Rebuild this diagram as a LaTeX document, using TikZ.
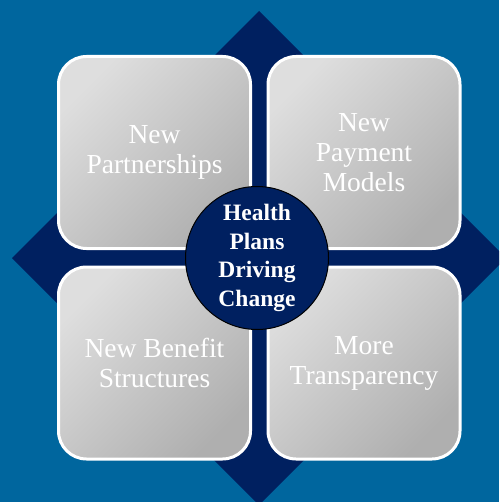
\documentclass[tikz,border=0pt]{standalone}
\usepackage{fontspec}
\setmainfont{Liberation Serif}
\definecolor{bgblue}{HTML}{00669E}
\definecolor{navy}{HTML}{002060}
\definecolor{boxlight}{HTML}{DEDEDE}
\definecolor{boxdark}{HTML}{AFAFAF}
\tikzset{
  tile/.style={draw=white, line width=3pt, rounded corners=28pt,
    minimum width=192pt, minimum height=192pt, inner sep=0pt,
    top color=boxlight, bottom color=boxdark, shading angle=45,
    text=white, align=center, font=\fontsize{27.5}{30}\selectfont},
  hubnode/.style={circle, draw=black, line width=1pt, fill=navy,
    minimum size=143pt, inner sep=0pt, text=white, align=center,
    font=\bfseries\fontsize{23.5}{28.5}\selectfont}
}
\begin{document}
\begin{tikzpicture}[x=1pt,y=-1pt]
\useasboundingbox (0,0) rectangle (499,502);
\clip (0,0) rectangle (499,502);
\fill[bgblue] (0,0) rectangle (499,502);
\fill[navy] (259,11) -- (506,258) -- (259,505) -- (12,258) -- cycle;
\node[tile] (tl) at (154.5,152.5) {New\\Partnerships};
\node[tile] (tr) at (364,152.5) {New\\Payment\\Models};
\node[tile] (bl) at (154.5,363) {New Benefit\\Structures};
\node[tile] (br) at (364,363) {More\\Transparency};
\node[hubnode] (hub) at (257,258) {Health\\Plans\\Driving\\Change};
\end{tikzpicture}
\end{document}
